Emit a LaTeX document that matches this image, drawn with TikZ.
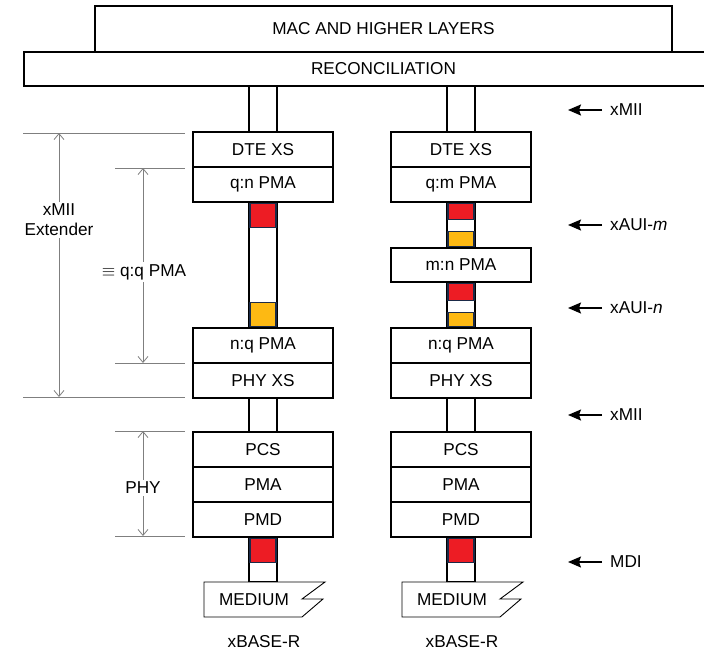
\documentclass[tikz,border=0pt]{standalone}
\usepackage{fontspec}
\setmainfont{Liberation Sans}
\usetikzlibrary{positioning,calc,arrows.meta}
\definecolor{sigred}{HTML}{ED1C24}
\definecolor{sigyellow}{HTML}{FDB913}
\definecolor{sigedge}{HTML}{1B2A47}
\definecolor{dimgray}{HTML}{7F7F7F}
\begin{document}
\begin{tikzpicture}[x=1pt,y=-1pt,line join=miter,
  font=\fontsize{17.2}{20}\selectfont,
  layer/.style={draw,line width=1.3pt,minimum width=140pt,minimum height=35pt,
                inner sep=0pt,fill=white},
  tube/.style={draw,line width=1.3pt,fill=white},
  sig/.style={draw=sigedge,line width=1.4pt,minimum width=26pt,inner sep=0pt},
  dim/.style={dimgray,line width=.8pt},
  dimarrow/.style={dim,{Straight Barb[length=6pt,width=10pt]}-{Straight Barb[length=6pt,width=10pt]}},
  dimlabel/.style={fill=white,inner sep=2pt,align=center,text=black},
  side/.style={anchor=west,inner xsep=8pt,inner ysep=0pt},
  inarrow/.style={line width=1.5pt,-{Stealth[length=13pt,width=11pt,inset=2pt]}}]
\useasboundingbox (0,0) rectangle (704,653);

% upper layers
\node[layer,minimum width=577pt,minimum height=46pt] (mac) at (383.5,29) {MAC AND HIGHER LAYERS};
\node[layer,minimum width=719pt,minimum height=34pt] (recon) at (383.5,69) {RECONCILIATION};

% the two stacks
\foreach \c/\x/\k in {L/263/n,R/461/m}
{
  \node[layer] (dte\c) at (\x,149.5) {DTE XS};
  \node[layer] (qk\c) at (\x,184.5) {q:\k\ PMA};
  \node[layer] (nq\c) at (\x,345.5) {n:q PMA};
  \node[layer] (phy\c) at (\x,380.5) {PHY XS};
  \node[layer] (pcs\c) at (\x,449.5) {PCS};
  \node[layer] (pma\c) at (\x,484.5) {PMA};
  \node[layer] (pmd\c) at (\x,519.5) {PMD};
  \coordinate (med\c) at (\x,582);
  \draw[tube] ($(dte\c.north)+(-14,0)$) rectangle ($(dte\c.north |- recon.south)+(14,0)$);
  \draw[tube] ($(phy\c.south)+(-14,0)$) rectangle ($(pcs\c.north)+(14,0)$);
  \draw[tube] ($(pmd\c.south)+(-14,0)$) rectangle ($(med\c)+(14,0)$);
  \node[sig,fill=sigred,minimum height=24pt,below=0pt of pmd\c.south] (mdi\c) {};
  % medium with break mark
  \draw[line width=.9pt,fill=white] ($(med\c)+(-59,0)$) -- ++(121,0) -- ++(-23,17)
    -- ++(21,0) -- ++(-21,18) -- ($(med\c)+(-59,35)$) -- cycle;
  \node (medium\c) at ($(med\c)+(-9,17.5)$) {MEDIUM};
  \node (base\c) at (\x+1,642) {xBASE-R};
}
\node[layer,minimum height=34pt] (mnR) at (461,265) {m:n PMA};

% links between the PMAs
\draw[tube] ($(qkL.south)+(-14,0)$) rectangle ($(nqL.north)+(14,0)$);
\node[sig,fill=sigred,minimum height=24pt,below=0pt of qkL.south] (redL) {};
\node[sig,fill=sigyellow,minimum height=24pt,above=0pt of nqL.north] (yelL) {};
\draw[tube] ($(qkR.south)+(-14,0)$) rectangle ($(mnR.north)+(14,0)$);
\node[sig,fill=sigred,minimum height=16pt,below=0pt of qkR.south] (redRm) {};
\node[sig,fill=sigyellow,minimum height=15pt,above=0pt of mnR.north] (yelRm) {};
\draw[tube] ($(mnR.south)+(-14,0)$) rectangle ($(nqR.north)+(14,0)$);
\node[sig,fill=sigred,minimum height=17pt,below=0pt of mnR.south] (redRn) {};
\node[sig,fill=sigyellow,minimum height=14pt,above=0pt of nqR.north] (yelRn) {};

% extents on the left
\coordinate (extTop) at (59,133);
\coordinate (extBot) at (59,397);
\coordinate (qqTop) at (143,168);
\coordinate (qqBot) at (143,363);
\coordinate (phyTop) at (143,431);
\coordinate (phyBot) at (143,536);
\draw[dim] (23,133) -- (185,133);
\draw[dim] (23,397) -- (185,397);
\draw[dim] (115,168) -- (185,168);
\draw[dim] (115,363) -- (185,363);
\draw[dim] (115,431) -- (185,431);
\draw[dim] (115,536) -- (185,536);
\draw[dimarrow] (extTop) -- (extBot);
\draw[dimarrow] (qqTop) -- (qqBot);
\draw[dimarrow] (phyTop) -- (phyBot);
\node[dimlabel] (extLbl) at (59,220) {xMII\\Extender};
\node[dimlabel] (qqLbl) at (144,272) {$\equiv$ q:q PMA};
\node[dimlabel] (phyLbl) at (143,488) {PHY};

% interface names on the right
\foreach \y/\n/\t in {110/miiA/xMII,
                      225/auiM/xAUI-\textit{m},
                      308/auiN/xAUI-\textit{n},
                      415/miiB/xMII,
                      562/mdi/MDI}
{
  \node[side] (\n) at (602,\y) {\t};
  \coordinate (\n tip) at (568,\y);
  \draw[inarrow] (\n) -- (\n tip);
}
\end{tikzpicture}
\end{document}
